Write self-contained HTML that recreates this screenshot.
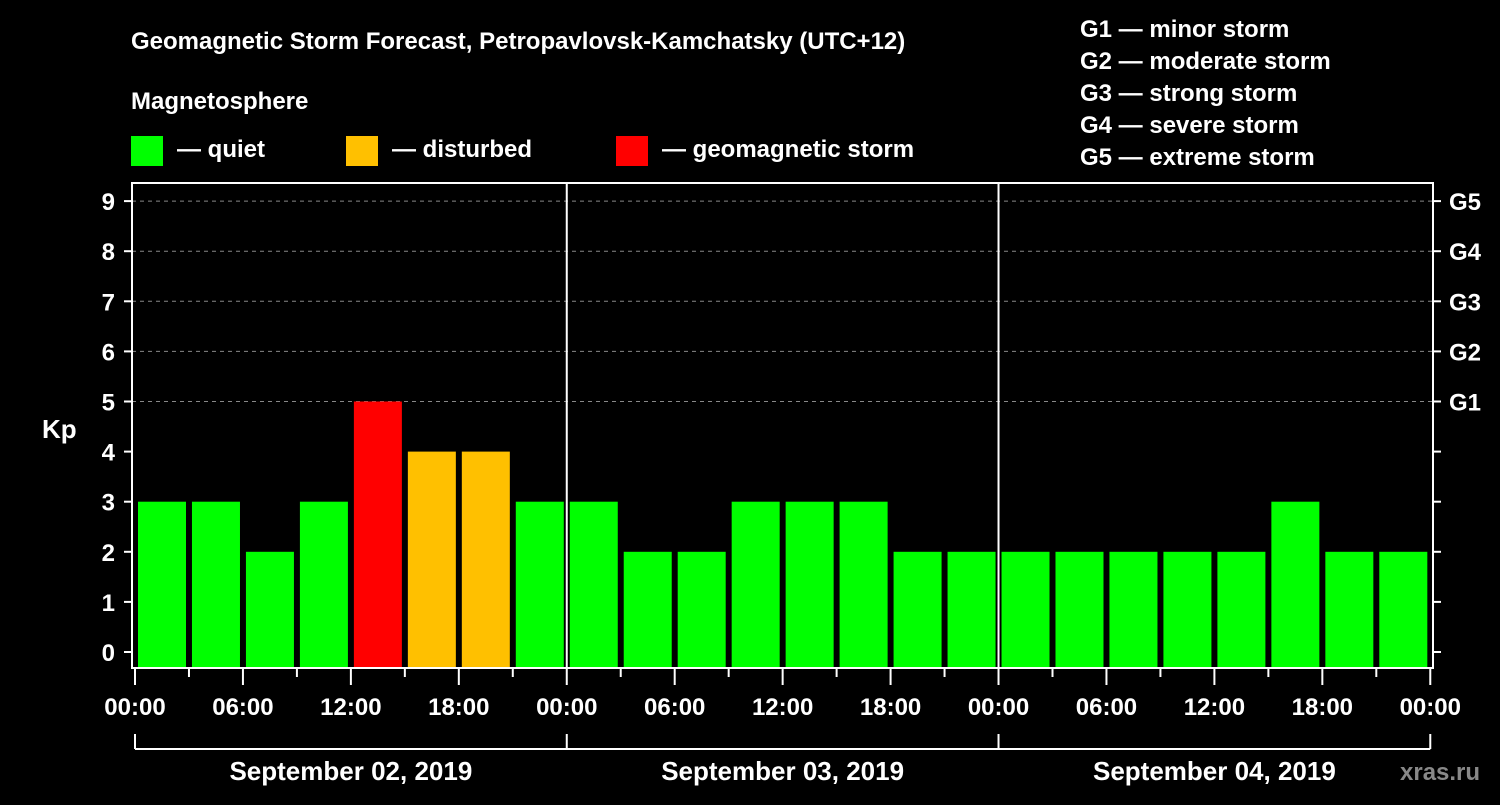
<!DOCTYPE html>
<html><head><meta charset="utf-8"><style>
body{margin:0;background:#000;width:1500px;height:800px;overflow:hidden;font-family:"Liberation Sans",Arial,sans-serif}
svg text{font-family:"Liberation Sans",Arial,sans-serif;font-weight:bold;fill:#fff}
</style></head><body>
<svg id="c" width="1500" height="800">
<text x="131" y="49" font-size="24">Geomagnetic Storm Forecast, Petropavlovsk-Kamchatsky (UTC+12)</text>
<text x="131" y="109" font-size="24">Magnetosphere</text>
<rect x="131" y="136" width="32" height="30" fill="#00ff00"/>
<text x="177" y="157" font-size="24">— quiet</text>
<rect x="346" y="136" width="32" height="30" fill="#ffc000"/>
<text x="392" y="157" font-size="24">— disturbed</text>
<rect x="616" y="136" width="32" height="30" fill="#ff0000"/>
<text x="662" y="157" font-size="24">— geomagnetic storm</text>
<g font-size="24">
<text x="1080" y="37">G1 — minor storm</text>
<text x="1080" y="69">G2 — moderate storm</text>
<text x="1080" y="101">G3 — strong storm</text>
<text x="1080" y="133">G4 — severe storm</text>
<text x="1080" y="165">G5 — extreme storm</text>
</g>
<text x="42" y="438" font-size="26">Kp</text>
<text x="1400" y="780" font-size="24" fill="#888" style="fill:#888">xras.ru</text>
<g id="plot"></g>
</svg>
<script>
const days=["September 02, 2019","September 03, 2019","September 04, 2019"];
const kp=[3,3,2,3,5,4,4,3, 3,2,2,3,3,3,2,2, 2,2,2,2,2,3,2,2];
const yTicks=[0,1,2,3,4,5,6,7,8,9];
const gLabels=["G1","G2","G3","G4","G5"];
const gLevels=[5,6,7,8,9];
const timeLabels=["00:00","06:00","12:00","18:00"];
const NS="http://www.w3.org/2000/svg";
const L=132,R=1433,T=183,B=668,X0=135,PXH=17.99;
const y=v=>652-v*50.1;
const x=h=>X0+h*PXH;
const g=document.getElementById('plot');
function mk(t,a){const e=document.createElementNS(NS,t);for(const k in a)e.setAttribute(k,a[k]);g.appendChild(e);return e;}
// grid
gLevels.forEach(v=>{const e=mk('line',{x1:L,x2:R,y1:y(v),y2:y(v),stroke:'#888','stroke-dasharray':'4,4','stroke-width':1});

});
// bars
kp.forEach((v,i)=>{const c=v>=5?'#ff0000':v>=4?'#ffc000':'#00ff00';
const e=mk('rect',{x:x(i*3)+3,y:y(v),width:48,height:B-y(v),fill:c});

});
// day separators
[1,2].forEach(d=>{const e=mk('line',{x1:x(d*24),x2:x(d*24),y1:T,y2:B,stroke:'#fff','stroke-width':2});

});
// frame
const fr=mk('rect',{x:L,y:T,width:R-L,height:B-T,fill:'none',stroke:'#fff','stroke-width':2});


// y ticks
yTicks.forEach(v=>{mk('line',{x1:124,x2:L,y1:y(v),y2:y(v),stroke:'#fff','stroke-width':2});
mk('line',{x1:R,x2:1441,y1:y(v),y2:y(v),stroke:'#fff','stroke-width':2});
const t=mk('text',{x:115,y:y(v)+9,'font-size':24,'text-anchor':'end'});t.textContent=v;

});
gLabels.forEach((s,i)=>{const t=mk('text',{x:1449,y:y(gLevels[i])+9,'font-size':24});t.textContent=s;

});
// x ticks
for(let h=0;h<=72;h+=3){const long=h%6==0;mk('line',{x1:x(h),x2:x(h),y1:B,y2:long?685:677,stroke:'#fff','stroke-width':2});}
for(let h=0;h<=72;h+=6){const t=mk('text',{x:x(h),y:715,'font-size':24,'text-anchor':'middle'});t.textContent=timeLabels[(h/6)%4];

}
// day brackets
mk('line',{x1:x(0),x2:x(72),y1:749,y2:749,stroke:'#fff','stroke-width':2});
for(let d=0;d<=3;d++)mk('line',{x1:x(d*24),x2:x(d*24),y1:734,y2:749,stroke:'#fff','stroke-width':2});
days.forEach((s,d)=>{const t=mk('text',{x:x(d*24+12),y:780,'font-size':26,'text-anchor':'middle'});t.textContent=s;

});
</script>
</body></html>
